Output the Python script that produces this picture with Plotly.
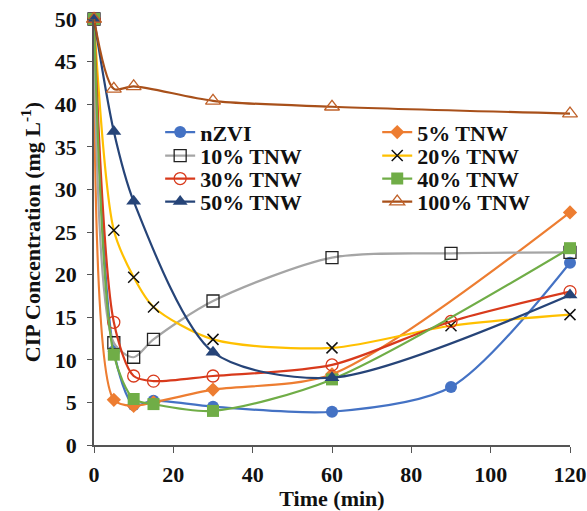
import plotly.graph_objects as go

time_all = [0, 5, 10, 15, 30, 60, 90, 120]
time_no90 = [0, 5, 10, 15, 30, 60, 120]
time_50 = [0, 5, 10, 30, 60, 120]
time_100 = [0, 5, 10, 30, 60, 120]

nzvi = [50, 11.0, 4.7, 5.2, 4.5, 3.9, 6.8, 21.4]
tnw5 = [50, 5.3, 4.6, 5.0, 6.5, 8.3, 27.3]
tnw10 = [50, 12.0, 10.3, 12.4, 16.9, 22.0, 22.5, 22.6]
tnw20 = [50, 25.2, 19.7, 16.2, 12.4, 11.4, 14.0, 15.3]
tnw30 = [50, 14.4, 8.1, 7.5, 8.1, 9.4, 14.5, 18.0]
tnw40 = [50, 10.6, 5.4, 4.8, 4.0, 7.7, 23.1]
tnw50 = [50, 36.8, 28.6, 10.9, 7.9, 17.6]
tnw100 = [50, 41.8, 42.1, 40.4, 39.7, 38.9]

x_ticks = [0, 20, 40, 60, 80, 100, 120]
y_ticks = [0, 5, 10, 15, 20, 25, 30, 35, 40, 45, 50]

FONT = "Liberation Serif"

series = [
    ("nZVI", time_all, nzvi, "#4472C4", dict(symbol="circle", size=12, color="#4472C4")),
    ("5% TNW", time_no90, tnw5, "#ED7D31", dict(symbol="diamond", size=11, color="#ED7D31")),
    ("10% TNW", time_all, tnw10, "#A5A5A5", dict(symbol="square-open", size=12, color="#222222", line=dict(width=1.3))),
    ("20% TNW", time_all, tnw20, "#FFC000", dict(symbol="x-thin", size=11, color="#111111", line=dict(width=1.5, color="#111111"))),
    ("30% TNW", time_all, tnw30, "#D83A1C", dict(symbol="circle-open", size=12, color="#D83A1C", line=dict(width=1.3))),
    ("40% TNW", time_no90, tnw40, "#70AD47", dict(symbol="square", size=12, color="#70AD47")),
    ("50% TNW", time_50, tnw50, "#264478", dict(symbol="triangle-up", size=13, color="#264478")),
    ("100% TNW", time_100, tnw100, "#A8501A", dict(symbol="triangle-up-open", size=13, color="#C0622A", line=dict(width=1.3))),
]

# legend placement: two columns, four rows (paper coordinates)
legend_cols = [0.139, 0.595]
legend_rows = [0.734, 0.679, 0.625, 0.571]

fig = go.Figure()
legend_layouts = {}
for i, (name, xs, ys, col, mk) in enumerate(series):
    key = "legend" if i == 0 else f"legend{i + 1}"
    fig.add_trace(go.Scatter(
        x=xs, y=ys, name=f"<b>{name}</b>", mode="lines+markers",
        line=dict(color=col, width=2.2, shape="spline", smoothing=0.8),
        marker=mk, cliponaxis=False, legend=key, showlegend=True,
    ))
    legend_layouts[key] = dict(
        x=legend_cols[i % 2], y=legend_rows[i // 2],
        xanchor="left", yanchor="middle", orientation="v",
        font=dict(family=FONT, size=22, color="#111111"),
        bgcolor="rgba(0,0,0,0)", itemwidth=30, visible=True,
    )

tick_txt = lambda vals: [f"<b>{v}</b>" for v in vals]

fig.update_layout(
    width=587, height=511, showlegend=True,
    margin=dict(l=94, r=17, t=19, b=66, autoexpand=False),
    plot_bgcolor="white", paper_bgcolor="white",
    font=dict(family=FONT, size=22, color="#111111"),
    **legend_layouts,
    xaxis=dict(
        range=[0, 120], tickvals=x_ticks, ticktext=tick_txt(x_ticks),
        showgrid=False, zeroline=False, automargin=False,
        showline=True, linecolor="#555555", linewidth=1.5,
        ticks="outside", ticklen=6, tickcolor="#555555", ticklabelstandoff=3,
        tickfont=dict(family=FONT, size=22),
        title=dict(text="<b>Time (min)</b>", font=dict(family=FONT, size=22), standoff=2),
    ),
    yaxis=dict(
        range=[0, 50], tickvals=y_ticks, ticktext=tick_txt(y_ticks),
        showgrid=False, zeroline=False, automargin=False,
        showline=True, linecolor="#555555", linewidth=1.5,
        ticks="outside", ticklen=5, tickcolor="#555555", ticklabelstandoff=6,
        tickfont=dict(family=FONT, size=22),
        title=dict(text="<b>CIP Concentration (mg L<sup>-1</sup>)</b>", font=dict(family=FONT, size=22), standoff=8),
    ),
)

fig.write_html(
    "out.html",
    config={"displayModeBar": False},
    post_script="document.body.style.margin='0';document.body.style.overflow='hidden';",
)
